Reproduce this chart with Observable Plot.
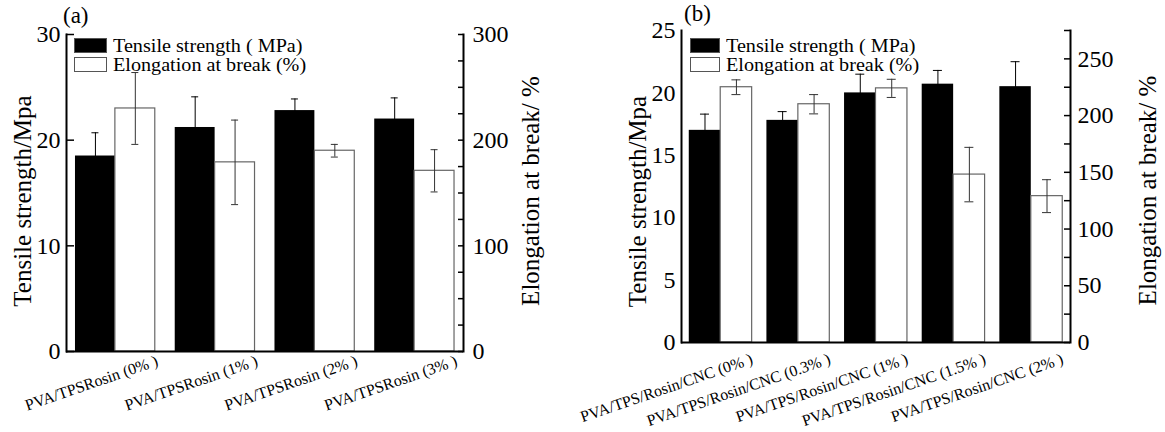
<!DOCTYPE html>
<html>
<head>
<meta charset="utf-8">
<script src="https://cdn.jsdelivr.net/npm/d3@7"></script>
<script src="https://cdn.jsdelivr.net/npm/@observablehq/plot@0.6"></script>
<style>
  body { margin: 0; background: #fff; }
  #wrap { position: relative; width: 1165px; height: 432px; overflow: hidden; font-family: "Liberation Serif", "Times New Roman", serif; color: #000; }
  .panel { position: absolute; top: 0; }
  .panel svg text { font-family: "Liberation Serif", "Times New Roman", serif; }
  .plabel { position: absolute; font-size: 23px; line-height: 23px; }
  .legend { position: absolute; font-size: 18px; }
  .legend .row { position: absolute; left: 0; height: 20px; line-height: 20px; white-space: nowrap; }
  .legend .txt { display: inline-block; transform: scaleX(1.12); transform-origin: left center; }
  .legend .sw { position: absolute; left: 0; top: 2px; height: 15px; box-sizing: border-box; border: 1px solid #555; }
</style>
</head>
<body>
<div id="wrap"></div>
<script>
// ---------- data ----------
const groupsA = ["PVA/TPSRosin (0% )", "PVA/TPSRosin (1% )", "PVA/TPSRosin (2% )", "PVA/TPSRosin (3% )"];
const tensileA = [18.5, 21.2, 22.8, 22.0];
const tensileErrA = [2.2, 2.9, 1.1, 2.0];
const elongA = [230, 179, 190, 171];
const elongErrA = [34, 40, 6, 20];
const leftTicksA = [0, 10, 20, 30];
const rightTicksA = [0, 100, 200, 300];

const groupsB = ["PVA/TPS/Rosin/CNC (0% )", "PVA/TPS/Rosin/CNC (0.3% )", "PVA/TPS/Rosin/CNC (1% )", "PVA/TPS/Rosin/CNC (1.5% )", "PVA/TPS/Rosin/CNC (2% )"];
const tensileB = [17.0, 17.8, 20.0, 20.7, 20.5];
const tensileErrB = [1.3, 0.7, 1.5, 1.1, 2.0];
const elongB = [225, 210, 224, 148, 129];
const elongErrB = [6.5, 8.5, 8, 24, 14.5];
const leftTicksB = [0, 5, 10, 15, 20, 25];
const rightTicksB = [0, 50, 100, 150, 200, 250];

const seriesNames = ["Tensile strength ( MPa)", "Elongation at break (%)"];
const leftTitle = "Tensile strength/Mpa";
const rightTitle = "Elongation at break/ %";

const FONT = '"Liberation Serif", "Times New Roman", serif';

function drawPanel(c) {
  const k = c.rMax / c.yMax;
  const innerW = c.width - c.mL - c.mR;
  const step = innerW / (c.groups.length - c.pi + 2 * c.po);
  const bw = step * (1 - c.pi);
  const q = bw / 4;
  const cap = c.cap;
  const rows = c.groups.map((g, i) => ({
    g,
    ts: c.ts[i], tsLo: c.ts[i] - c.tsErr[i], tsHi: c.ts[i] + c.tsErr[i],
    el: c.el[i] / k, elLo: (c.el[i] - c.elErr[i]) / k, elHi: (c.el[i] + c.elErr[i]) / k
  }));
  const minor = d3.range(0, c.rMax + 0.001, c.rStep).map(v => v / k);
  return Plot.plot({
    width: c.width, height: 432,
    marginLeft: c.mL, marginRight: c.mR, marginTop: c.mT, marginBottom: c.mB,
    style: { fontFamily: FONT, fontSize: "16px", color: "#000", background: "transparent", overflow: "visible" },
    x: { domain: c.groups, paddingInner: c.pi, paddingOuter: c.po, round: false },
    y: { domain: [0, c.yMax] },
    marks: [
      Plot.barY(rows, { x: "g", y: "ts", fill: "#000", insetRight: bw / 2 }),
      Plot.barY(rows, { x: "g", y: "el", fill: "#fff", stroke: "#666", strokeWidth: 1.2, insetLeft: bw / 2 }),
      Plot.ruleX(rows, { x: "g", y1: "tsLo", y2: "tsHi", dx: -q, stroke: "#000", strokeWidth: 1 }),
      Plot.tickY(rows, { x: "g", y: "tsHi", insetLeft: q - cap, insetRight: 3 * q - cap, stroke: "#000", strokeWidth: 1 }),
      Plot.ruleX(rows, { x: "g", y1: "elLo", y2: "elHi", dx: q, stroke: "#333", strokeWidth: 1 }),
      Plot.tickY(rows, { x: "g", y: "elHi", insetLeft: 3 * q - cap, insetRight: q - cap, stroke: "#333", strokeWidth: 1 }),
      Plot.tickY(rows, { x: "g", y: "elLo", insetLeft: 3 * q - cap, insetRight: q - cap, stroke: "#333", strokeWidth: 1 }),
      Plot.frame({ anchor: "left", stroke: "#000", strokeWidth: 2 }),
      Plot.frame({ anchor: "right", stroke: "#000", strokeWidth: 2 }),
      Plot.ruleY([0], { stroke: "#000", strokeWidth: 2 }),
      // inward ticks (left and right)
      c.lTickSize ? Plot.ruleY(c.leftTicks, { insetRight: innerW - c.lTickSize, stroke: "#000", strokeWidth: 1.5 }) : null,
      Plot.ruleY(minor, { insetLeft: innerW - c.rTickSize, stroke: "#000", strokeWidth: 1.5 }),
      // tick labels
      Plot.axisY(c.leftTicks, { anchor: "left", tickSize: 0, tickPadding: 6, fontSize: 24, fontFamily: FONT, label: null }),
      Plot.axisY(c.rightTicks.map(v => v / k), { anchor: "right", tickSize: 0, tickPadding: c.rPad, fontSize: 24, fontFamily: FONT, tickFormat: d => String(Math.round(d * k)), label: null }),
      // x axis labels
      Plot.axisX({ tickSize: 0, tickPadding: c.xPad, tickRotate: -19, dx: bw / 2 + c.xDx, fontSize: 16, fontFamily: FONT, label: null }),
      // axis titles
      Plot.text([leftTitle], { text: d => d, frameAnchor: "left", textAnchor: "middle", rotate: -90, dx: c.ltDx, dy: c.ltDy, fontSize: 25, fontFamily: FONT, fill: "#000" }),
      Plot.text([rightTitle], { text: d => d, frameAnchor: "right", textAnchor: "middle", rotate: -90, dx: c.rtDx, dy: c.rtDy, fontSize: 25, fontFamily: FONT, fill: "#000" })
    ]
  });
}

const wrap = document.getElementById("wrap");

function addPanel(left, c, label, labelPos, legendPos, swW) {
  const div = document.createElement("div");
  div.className = "panel";
  div.style.left = left + "px";
  div.appendChild(drawPanel(c));
  wrap.appendChild(div);

  const pl = document.createElement("div");
  pl.className = "plabel";
  pl.style.left = labelPos[0] + "px";
  pl.style.top = labelPos[1] + "px";
  pl.textContent = label;
  wrap.appendChild(pl);

  const lg = document.createElement("div");
  lg.className = "legend";
  lg.style.left = legendPos[0] + "px";
  lg.style.top = legendPos[1] + "px";
  seriesNames.forEach((name, i) => {
    const row = document.createElement("div");
    row.className = "row";
    row.style.top = (i * 19) + "px";
    row.style.paddingLeft = (swW + 6) + "px";
    const sw = document.createElement("span");
    sw.className = "sw";
    sw.style.width = swW + "px";
    sw.style.background = i === 0 ? "#000" : "#fff";
    row.appendChild(sw);
    const t = document.createElement("span");
    t.className = "txt";
    t.textContent = name;
    row.appendChild(t);
    lg.appendChild(row);
  });
  wrap.appendChild(lg);
}

addPanel(0, {
  groups: groupsA, ts: tensileA, tsErr: tensileErrA, el: elongA, elErr: elongErrA,
  yMax: 30, rMax: 300, rStep: 25, leftTicks: leftTicksA, rightTicks: rightTicksA,
  lTickSize: 8, rTickSize: 5, rPad: 9,
  width: 585, mL: 66, mR: 122, mT: 34, mB: 81, pi: 0.2, po: 0.09, cap: 3.5,
  xPad: 9, xDx: 2, ltDx: -44, ltDy: 8, rtDx: 67, rtDy: -2
}, "(a)", [63, 4], [74, 36], 33);

addPanel(585, {
  groups: groupsB, ts: tensileB, tsErr: tensileErrB, el: elongB, elErr: elongErrB,
  yMax: 25, rMax: 275, rStep: 25, leftTicks: leftTicksB, rightTicks: rightTicksB,
  lTickSize: 0, rTickSize: 6, rPad: 7,
  width: 580, mL: 96, mR: 95, mT: 30, mB: 90, pi: 0.19, po: 0.1, cap: 4.5,
  xPad: 16, xDx: 0, ltDx: -44, ltDy: 15, rtDx: 77, rtDy: 4
}, "(b)", [684, 2], [690, 36], 30);
</script>
</body>
</html>
